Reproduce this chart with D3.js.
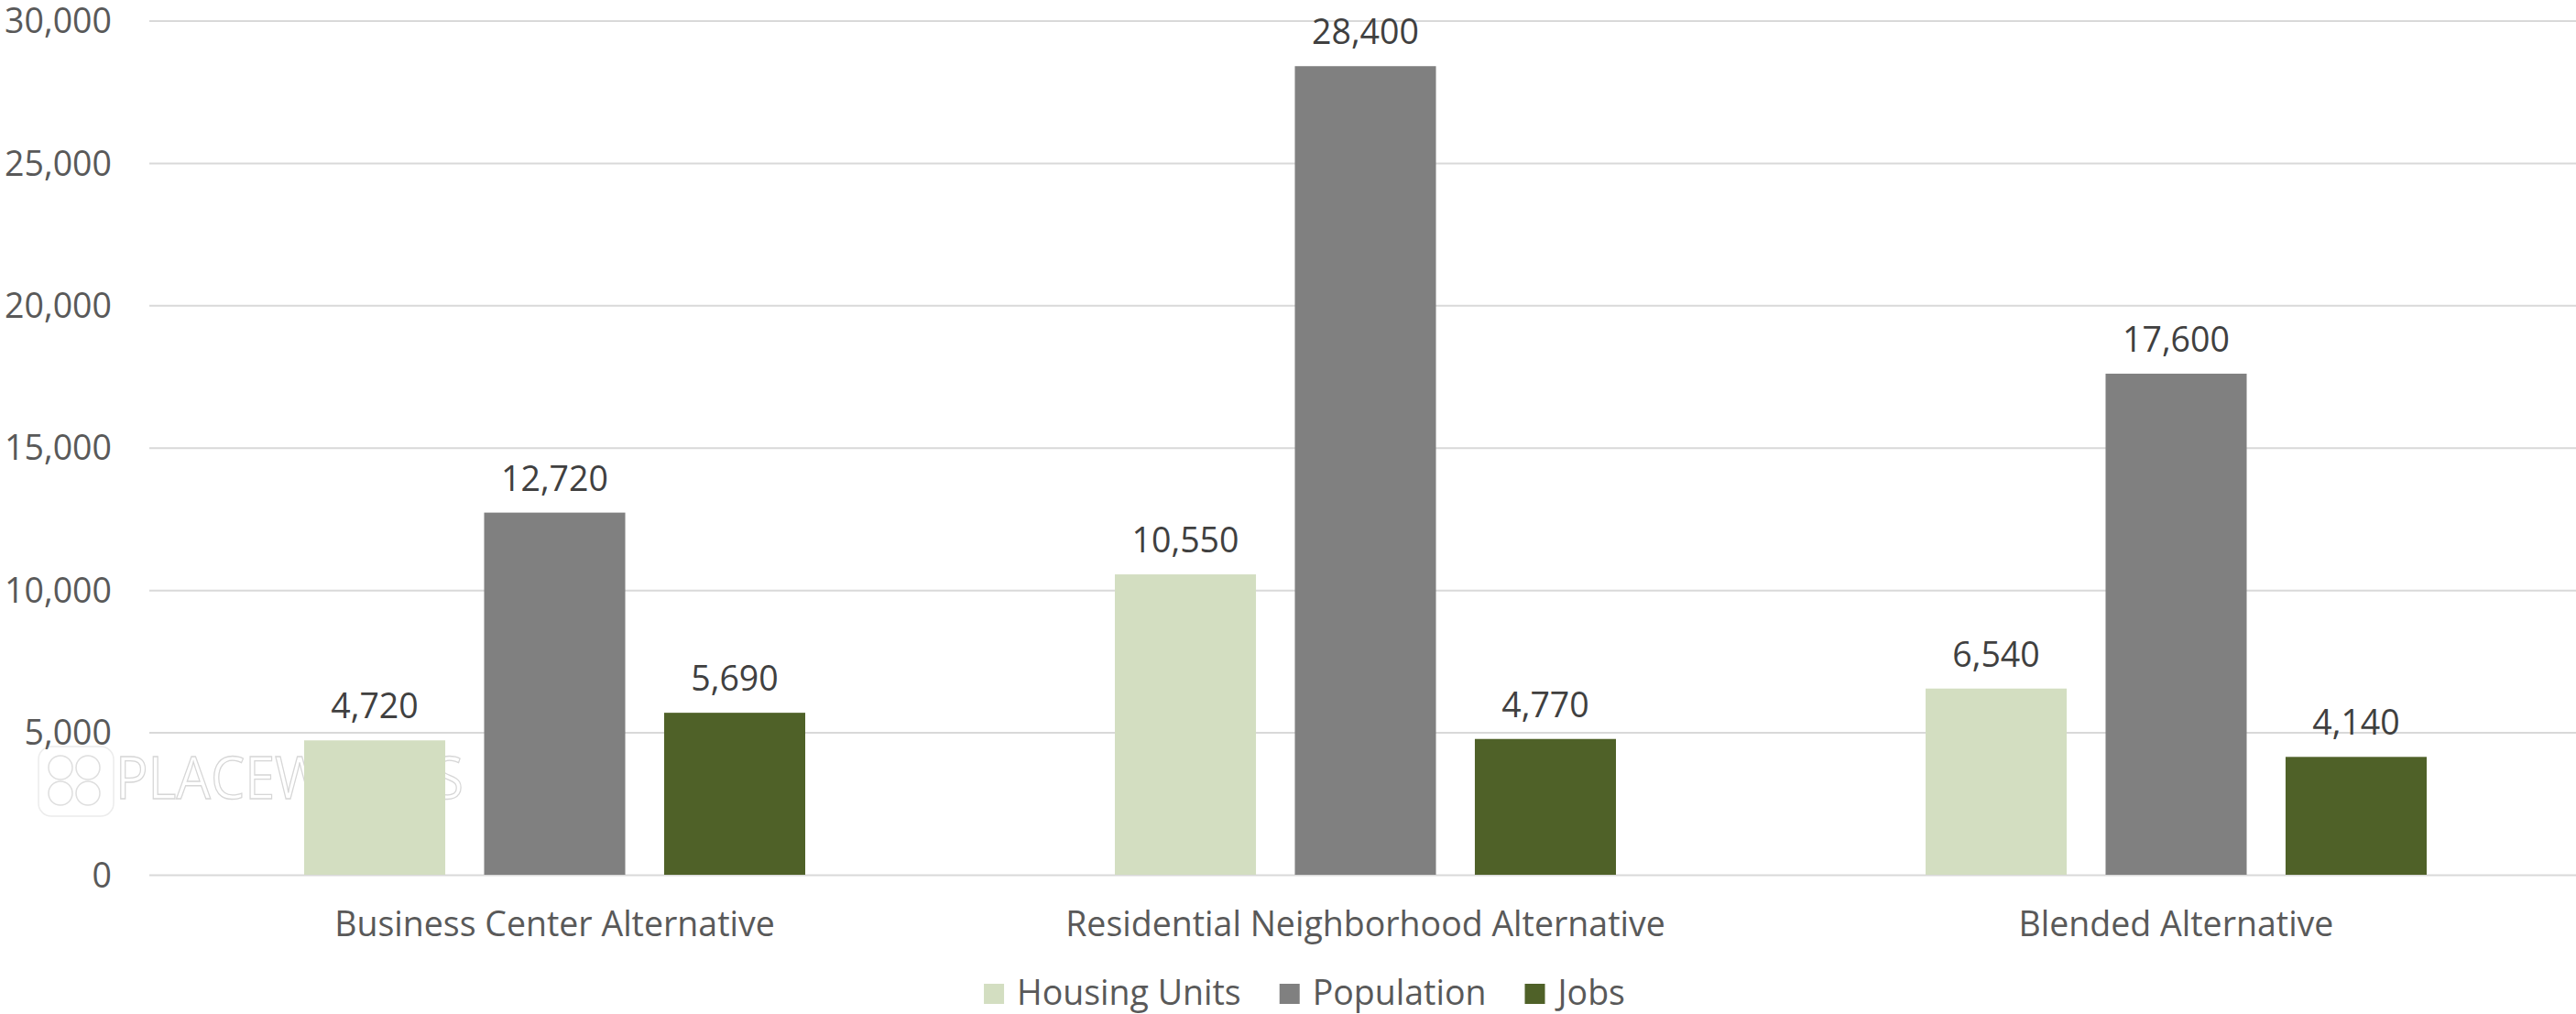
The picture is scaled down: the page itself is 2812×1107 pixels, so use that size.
<!DOCTYPE html>
<html>
<head>
<meta charset="utf-8">
<script src="https://cdn.jsdelivr.net/npm/d3@7"></script>
<style>
  html, body { margin: 0; padding: 0; background: #ffffff; }
  svg { display: block; }
  text { font-family: "Open Sans", "Noto Sans", sans-serif; }
</style>
</head>
<body>
<svg id="chart" width="2812" height="1107"></svg>
<script>
// ---- data ----
const categories = ["Business Center Alternative", "Residential Neighborhood Alternative", "Blended Alternative"];
const seriesNames = ["Housing Units", "Population", "Jobs"];
const housingUnits = [4720, 10550, 6540];
const population = [12720, 28400, 17600];
const jobs = [5690, 4770, 4140];
const yTicks = [0, 5000, 10000, 15000, 20000, 25000, 30000];
const seriesColors = ["#D3DEC1", "#808080", "#4F6128"];

const seriesValues = [housingUnits, population, jobs];

// ---- layout ----
const W = 2812, H = 1107;
const plotLeft = 163, plotRight = 2818, plotTop = 22.5, plotBottom = 955;

const svg = d3.select("#chart");

const x0 = d3.scaleBand().domain(categories).range([plotLeft, plotRight]).padding(0);
const groupPad = 169;
const x1 = d3.scaleBand().domain(seriesNames)
  .range([groupPad, x0.bandwidth() - groupPad])
  .paddingInner(0.216).paddingOuter(0);
const y = d3.scaleLinear().domain([0, 30000]).range([plotBottom, plotTop]);
const fmt = d3.format(",");

// watermark (faint outline)
const wm = svg.append("g").attr("class", "watermark");
wm.append("rect").attr("x", 42).attr("y", 815).attr("width", 82).attr("height", 76).attr("rx", 14)
  .attr("fill", "none").attr("stroke", "#ececec").attr("stroke-width", 1.5);
[[66, 838], [96, 838], [66, 866], [96, 866]].forEach(([cx, cy]) => {
  wm.append("circle").attr("cx", cx).attr("cy", cy).attr("r", 13)
    .attr("fill", "none").attr("stroke", "#dedede").attr("stroke-width", 1.5);
});
wm.append("text").attr("x", 126).attr("y", 872)
  .attr("font-size", 64).attr("textLength", 380).attr("lengthAdjust", "spacingAndGlyphs")
  .attr("fill", "none").attr("stroke", "#d6d6d6").attr("stroke-width", 1.3)
  .text("PLACEWORKS");

// gridlines
const yAxis = d3.axisLeft(y).tickValues(yTicks).tickSize(-(plotRight - plotLeft)).tickFormat(fmt).tickPadding(41);
const gy = svg.append("g").attr("transform", `translate(${plotLeft},0)`).call(yAxis);
gy.select(".domain").remove();
gy.selectAll(".tick line").attr("stroke", "#D9D9D9").attr("stroke-width", 2);
gy.selectAll(".tick text").attr("fill", "#595959").attr("font-size", 37.5)
  .attr("font-family", "'Open Sans', sans-serif").attr("dy", "0.35em");

// bars
const groups = svg.append("g").selectAll("g")
  .data(categories).join("g")
  .attr("transform", d => `translate(${x0(d)},0)`);

groups.selectAll("rect")
  .data((c, ci) => seriesNames.map((s, si) => ({ s, si, v: seriesValues[si][ci] })))
  .join("rect")
  .attr("x", d => x1(d.s))
  .attr("width", x1.bandwidth())
  .attr("y", d => y(d.v))
  .attr("height", d => y(0) - y(d.v))
  .attr("fill", d => seriesColors[d.si]);

groups.selectAll("text.val")
  .data((c, ci) => seriesNames.map((s, si) => ({ s, si, v: seriesValues[si][ci] })))
  .join("text").attr("class", "val")
  .attr("x", d => x1(d.s) + x1.bandwidth() / 2)
  .attr("y", d => y(d.v) - 24)
  .attr("text-anchor", "middle")
  .attr("font-size", 37.5)
  .attr("fill", "#404040")
  .text(d => fmt(d.v));

// category labels
const xAxis = d3.axisBottom(x0).tickSize(0).tickPadding(0);
const gx = svg.append("g").attr("transform", `translate(0,${plotBottom})`).call(xAxis);
gx.select(".domain").remove();
gx.selectAll(".tick text").attr("fill", "#595959").attr("font-size", 37.5)
  .attr("font-family", "'Open Sans', sans-serif")
  .attr("y", 0).attr("dy", 67);

// legend
const legend = svg.append("g");
const items = legend.selectAll("g").data(seriesNames).join("g");
items.append("rect").attr("width", 22).attr("height", 22).attr("y", 1074)
  .attr("fill", (d, i) => seriesColors[i]);
items.append("text").attr("x", 36).attr("y", 1097)
  .attr("font-size", 37.5).attr("fill", "#595959").text(d => d);
let offs = [], cur = 0;
items.each(function () {
  offs.push(cur);
  const w = d3.select(this).select("text").node().getComputedTextLength();
  cur += 36 + w + 42;
});
const total = cur - 42;
const start = 1424 - total / 2;
items.attr("transform", (d, i) => `translate(${start + offs[i]},0)`);
</script>
</body>
</html>
